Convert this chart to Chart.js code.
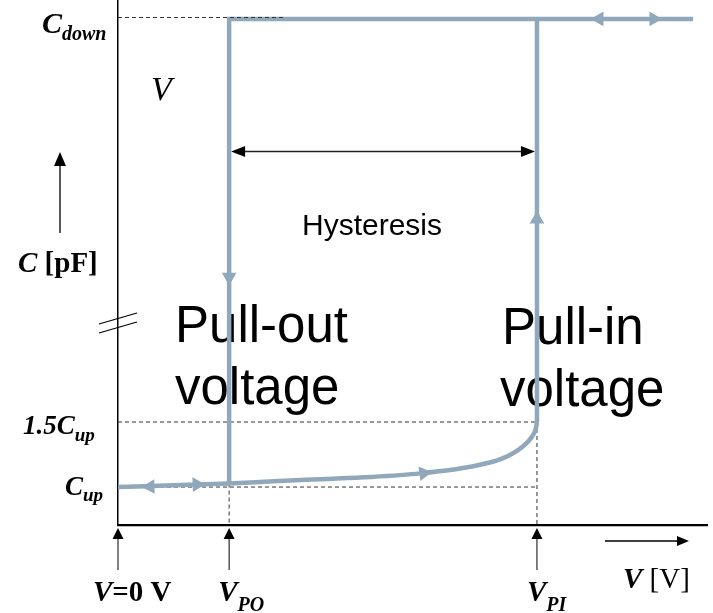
<!DOCTYPE html>
<html><head><meta charset="utf-8">
<script src="https://cdn.jsdelivr.net/npm/chart.js@4"></script>
<style>html,body{margin:0;padding:0;background:#fff}canvas{display:block}</style>
</head><body>
<canvas id="c" width="713" height="613"></canvas>
<script>
// ---- schematic values (arbitrary units) ----
const V_MIN = 0, V_MAX = 53;          // voltage axis range
const C_MIN = 0.708, C_MAX = 4.746;   // capacitance axis range (broken axis)
const V_PO = 10, V_PI = 37.7, V_END = 51.75;
const C_UP = 1, C_HALF = 1.5, C_DOWN = 4.6;
const C_HYST = 3.58;
// lower (up-state) branch
const lowerV = [0, 5, 10, 14, 18.2, 22.7, 27.2, 31.7, 34.6, 36.4, 37.25, 37.6, 37.7];
const lowerC = [1.0, 1.013, 1.027, 1.044, 1.06, 1.077, 1.105, 1.156, 1.22, 1.31, 1.387, 1.45, 1.5];
// pull-out drop
const dropV = [V_PO, V_PO, V_END];
const dropC = [1.027, C_DOWN, C_DOWN];
// pull-in jump
const jumpV = [V_PI, V_PI];
const jumpC = [C_HALF, C_DOWN];
// direction arrowheads on the curve
const arrowV = [43.3, 48.2, V_PI, V_PO, 2.9, 7.1, 27.5];
const arrowC = [C_DOWN, C_DOWN, 3.06, 2.615, 1.003, 1.02, 1.107];
const arrowRot = [270, 90, 0, 180, 268, 88, 82];

const GREY = 'rgb(145,168,186)';
const pts = (xs, ys) => xs.map((x, i) => ({x, y: ys[i]}));

function seg(ctx, x, y, parts) {
  for (const [t, f, dy] of parts) {
    ctx.font = f; ctx.fillText(t, x, y + (dy || 0)); x += ctx.measureText(t).width;
  }
}
function head(ctx, x, y, ang, len, half) {
  ctx.save(); ctx.translate(x, y); ctx.rotate(ang);
  ctx.beginPath(); ctx.moveTo(0, 0); ctx.lineTo(-len, -half); ctx.lineTo(-len, half);
  ctx.closePath(); ctx.fill(); ctx.restore();
}
const BI = s => `italic bold ${s}px "Liberation Serif"`;
const B = s => `bold ${s}px "Liberation Serif"`;
const N = s => `${s}px "Liberation Serif"`;
const SANS = s => `${s}px "Liberation Sans"`;

function dashed(ctx, x1, y1, x2, y2) {
  ctx.save(); ctx.strokeStyle = '#333'; ctx.lineWidth = 1; ctx.setLineDash([4, 3]);
  ctx.beginPath(); ctx.moveTo(x1, y1); ctx.lineTo(x2, y2); ctx.stroke(); ctx.restore();
}

const annot = {
  id: 'annot',
  beforeDatasetsDraw(chart) {
    const {ctx, scales: {x, y}} = chart;
    const ca = chart.chartArea;
    // dashed guides (under the curve)
    dashed(ctx, x.getPixelForValue(0), y.getPixelForValue(C_HALF), x.getPixelForValue(V_PI), y.getPixelForValue(C_HALF));
    dashed(ctx, x.getPixelForValue(0), y.getPixelForValue(C_UP), x.getPixelForValue(V_PI), y.getPixelForValue(C_UP));
    dashed(ctx, x.getPixelForValue(V_PO), y.getPixelForValue(1.027), x.getPixelForValue(V_PO), ca.bottom);
    dashed(ctx, x.getPixelForValue(V_PI), y.getPixelForValue(C_HALF), x.getPixelForValue(V_PI), ca.bottom);
    // big texts
    ctx.save(); ctx.fillStyle = '#000'; ctx.textBaseline = 'alphabetic'; ctx.textAlign = 'left';
    ctx.font = SANS(51);
    ctx.fillText('Pull-out', 175, 342);
    ctx.fillText('voltage', 175, 404);
    ctx.fillText('Pull-in', 502, 344);
    ctx.fillText('voltage', 500, 406);
    ctx.font = SANS(30);
    ctx.fillText('Hysteresis', 302, 235);
    // hysteresis double arrow
    const hy = y.getPixelForValue(C_HYST), hx1 = x.getPixelForValue(V_PO) + 2, hx2 = x.getPixelForValue(V_PI) - 2;
    ctx.strokeStyle = '#222'; ctx.fillStyle = '#000'; ctx.lineWidth = 1.5;
    ctx.beginPath(); ctx.moveTo(hx1 + 10, hy); ctx.lineTo(hx2 - 10, hy); ctx.stroke();
    head(ctx, hx1, hy, Math.PI, 14, 5.5);
    head(ctx, hx2, hy, 0, 14, 5.5);
    ctx.restore();
  },
  afterDatasetsDraw(chart) {
    const {ctx, scales: {x, y}} = chart;
    dashed(ctx, x.getPixelForValue(0), y.getPixelForValue(C_DOWN) - 1.5, x.getPixelForValue(15), y.getPixelForValue(C_DOWN) - 1.5);
  },
  afterDraw(chart) {
    const {ctx, scales: {x, y}} = chart;
    const ca = chart.chartArea;
    ctx.save(); ctx.fillStyle = '#000'; ctx.strokeStyle = '#000'; ctx.textAlign = 'left'; ctx.textBaseline = 'alphabetic';
    // y labels
    seg(ctx, 42, y.getPixelForValue(C_DOWN) + 14, [['C', BI(30)], ['down', BI(20), 7]]);
    ctx.font = `italic 34px "Liberation Serif"`; ctx.fillText('V', 151, 100);
    seg(ctx, 18, 272, [['C', BI(29)], [' [pF]', B(29)]]);
    seg(ctx, 23, y.getPixelForValue(C_HALF) + 12, [['1.5C', BI(27)], ['up', BI(19), 7]]);
    seg(ctx, 65, y.getPixelForValue(C_UP) + 8, [['C', BI(27)], ['up', BI(19), 6]]);
    // C axis arrow
    ctx.lineWidth = 1.3;
    ctx.beginPath(); ctx.moveTo(60, 233); ctx.lineTo(60, 160); ctx.stroke();
    head(ctx, 60, 152, -Math.PI / 2, 14, 6);
    // axis break marks
    ctx.lineWidth = 1.2;
    ctx.beginPath(); ctx.moveTo(99, 324); ctx.lineTo(137, 313); ctx.stroke();
    ctx.beginPath(); ctx.moveTo(99, 333); ctx.lineTo(137, 322); ctx.stroke();
    // bottom arrows
    ctx.lineWidth = 1;
    for (const v of [0, V_PO, V_PI]) {
      const px = x.getPixelForValue(v);
      ctx.beginPath(); ctx.moveTo(px, 570); ctx.lineTo(px, ca.bottom + 12); ctx.stroke();
      head(ctx, px, ca.bottom + 3, -Math.PI / 2, 11, 5.5);
    }
    ctx.lineWidth = 1.5;
    ctx.beginPath(); ctx.moveTo(605, 541); ctx.lineTo(678, 541); ctx.stroke();
    head(ctx, 689, 541, 0, 12, 5);
    // bottom labels
    seg(ctx, 93, 601, [['V', BI(29)], ['=0 V', B(29)]]);
    seg(ctx, x.getPixelForValue(V_PO) - 11, 601, [['V', BI(29)], ['PO', BI(20), 10]]);
    seg(ctx, x.getPixelForValue(V_PI) - 10, 601, [['V', BI(29)], ['PI', BI(20), 10]]);
    seg(ctx, 623, 588, [['V', BI(29)], [' [V]', N(29)]]);
    ctx.restore();
  }
};

new Chart(document.getElementById('c'), {
  type: 'scatter',
  data: {
    datasets: [
      {data: pts(lowerV, lowerC), showLine: true, borderColor: GREY, borderWidth: 4.5, pointRadius: 0,
       cubicInterpolationMode: 'monotone', borderCapStyle: 'butt'},
      {data: pts(dropV, dropC), showLine: true, borderColor: GREY, borderWidth: 4.5, pointRadius: 0,
       borderJoinStyle: 'miter', borderCapStyle: 'butt'},
      {data: pts(jumpV, jumpC), showLine: true, borderColor: GREY, borderWidth: 4.5, pointRadius: 0,
       borderCapStyle: 'butt'},
      {data: pts(arrowV, arrowC), showLine: false, pointStyle: 'triangle', pointRadius: 8.5,
       pointRotation: arrowRot, backgroundColor: GREY, borderColor: GREY, borderWidth: 0}
    ]
  },
  options: {
    responsive: false, animation: false, devicePixelRatio: 1,
    layout: {autoPadding: false, padding: {left: 118, top: 0, right: 6, bottom: 88}},
    plugins: {legend: {display: false}, tooltip: {enabled: false}},
    scales: {
      x: {type: 'linear', min: V_MIN, max: V_MAX,
          ticks: {display: false}, grid: {display: false, drawTicks: false},
          border: {display: true, color: '#000', width: 2.2}},
      y: {type: 'linear', min: C_MIN, max: C_MAX,
          ticks: {display: false}, grid: {display: false, drawTicks: false},
          border: {display: true, color: '#000', width: 1.5}}
    }
  },
  plugins: [annot]
});
</script>
</body></html>
